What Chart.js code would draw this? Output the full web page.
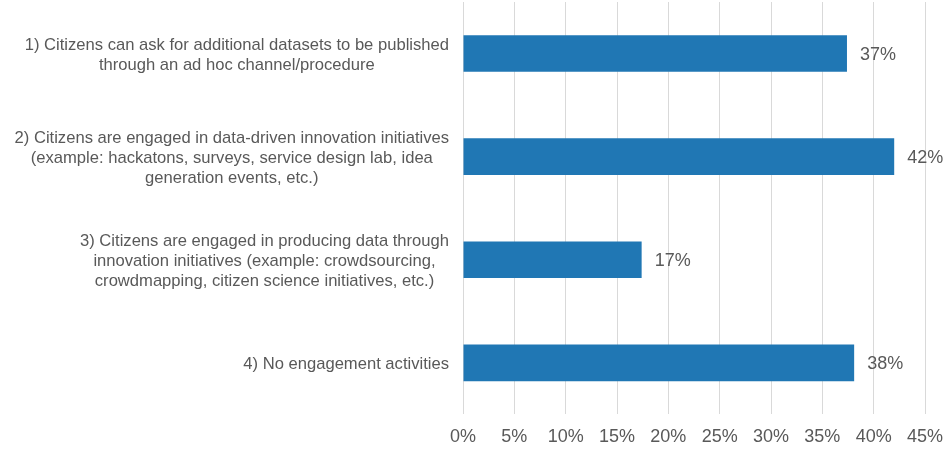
<!DOCTYPE html>
<html>
<head>
<meta charset="utf-8">
<script src="https://cdn.jsdelivr.net/npm/chart.js@4/dist/chart.umd.min.js"></script>
<style>
  html, body { margin: 0; padding: 0; background: #ffffff; }
  #wrap { width: 948px; height: 450px; position: relative; }
</style>
</head>
<body>
<div id="wrap"><canvas id="c" width="948" height="450"></canvas></div>
<script>
const categories = [
  ["1) Citizens can ask for additional datasets to be published", "through an ad hoc channel/procedure"],
  ["2) Citizens are engaged in data-driven innovation initiatives", "(example: hackatons, surveys, service design lab, idea", "generation events, etc.)"],
  ["3) Citizens are engaged in producing data through", "innovation initiatives (example: crowdsourcing,", "crowdmapping, citizen science initiatives, etc.)"],
  ["4) No engagement activities"]
];
const values = [37.4, 42.0, 17.4, 38.1];
const tickValues = [0, 5, 10, 15, 20, 25, 30, 35, 40, 45];

const TEXT = '#595959';
const LABEL_FONT = '16.6px "Liberation Sans", Arial, sans-serif';
const VALUE_FONT = '18px "Liberation Sans", Arial, sans-serif';

const labelPlugin = {
  id: 'customLabels',
  afterDatasetsDraw(chart) {
    const ctx = chart.ctx;
    const meta = chart.getDatasetMeta(0);
    ctx.save();
    ctx.font = VALUE_FONT;
    ctx.fillStyle = TEXT;
    ctx.textAlign = 'left';
    ctx.textBaseline = 'middle';
    meta.data.forEach((bar, i) => {
      ctx.fillText(Math.round(values[i]) + '%', bar.x + 13, bar.y + 1);
    });
    ctx.restore();
  },
  afterDraw(chart) {
    const ctx = chart.ctx;
    const yScale = chart.scales.y;
    const rightEdge = chart.chartArea.left - 14;
    const lineH = 20;
    ctx.save();
    ctx.font = LABEL_FONT;
    ctx.fillStyle = TEXT;
    ctx.textAlign = 'center';
    ctx.textBaseline = 'middle';
    categories.forEach((lines, i) => {
      const yc = yScale.getPixelForValue(i) + 1.5;
      const maxW = Math.max(...lines.map(l => ctx.measureText(l).width));
      const xc = rightEdge - maxW / 2;
      const startY = yc - (lines.length - 1) * lineH / 2;
      lines.forEach((l, j) => ctx.fillText(l, xc, startY + j * lineH));
    });
    ctx.restore();
  }
};

new Chart(document.getElementById('c'), {
  type: 'bar',
  data: {
    labels: categories.map(c => c.join(' ')),
    datasets: [{
      data: values,
      backgroundColor: '#2077b4',
      borderWidth: 0,
      barPercentage: 0.355,
      categoryPercentage: 1.0
    }]
  },
  options: {
    indexAxis: 'y',
    responsive: false,
    animation: false,
    devicePixelRatio: 1,
    layout: { padding: { left: 463, right: 23, top: 2, bottom: -10 } },
    plugins: {
      legend: { display: false },
      tooltip: { enabled: false }
    },
    scales: {
      x: {
        min: 0,
        max: 45,
        afterBuildTicks(scale) { scale.ticks = tickValues.map(v => ({ value: v })); },
        afterFit(scale) { scale.paddingRight = 0; scale.paddingLeft = 0; },
        ticks: {
          color: TEXT,
          font: { family: '"Liberation Sans", Arial, sans-serif', size: 18 },
          padding: 12,
          callback: v => v + '%'
        },
        grid: { color: '#d9d9d9', lineWidth: 1, drawTicks: false },
        border: { display: false }
      },
      y: {
        display: false,
        grid: { display: false }
      }
    }
  },
  plugins: [labelPlugin]
});
</script>
</body>
</html>
